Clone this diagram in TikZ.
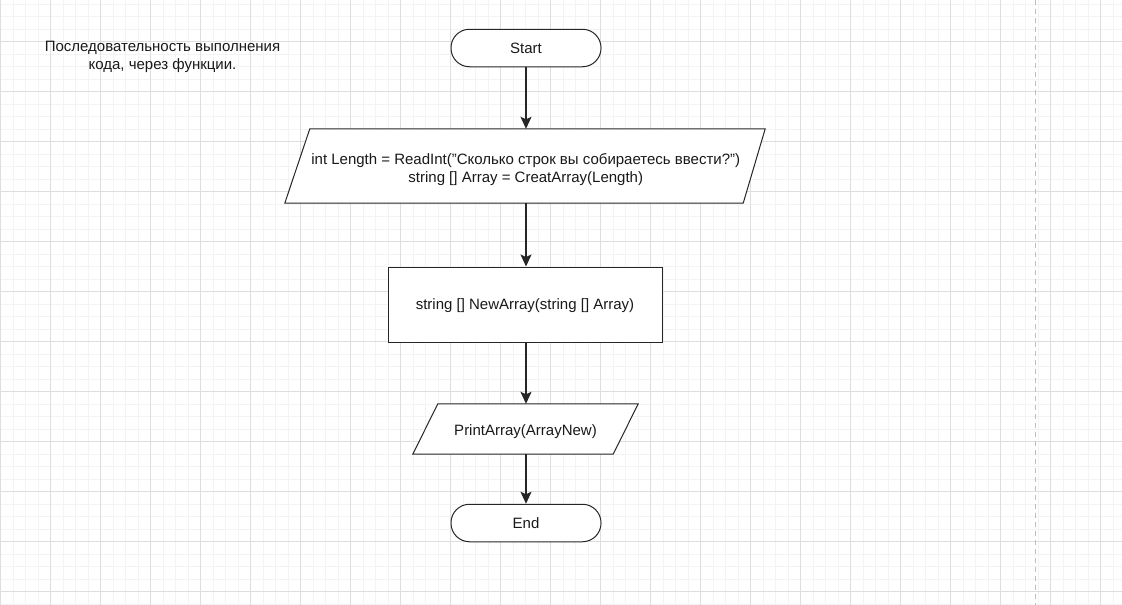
\documentclass[tikz,border=0pt]{standalone}
\usepackage{fontspec}
\setmainfont{Liberation Sans}
\usetikzlibrary{arrows.meta}
\definecolor{gridminor}{RGB}{243,243,243}
\definecolor{gridmajor}{RGB}{222,222,222}
\definecolor{pagebreak}{RGB}{190,190,190}
\begin{document}
\begin{tikzpicture}[x=1pt,y=-1pt,
  every node/.style={font=\fontsize{15}{18.5}\selectfont, text=black!90, inner sep=0pt},
  terminal/.style={draw=black!85, line width=1pt, fill=white, rectangle, rounded corners=18.5pt,
    minimum width=150pt, minimum height=37.5pt, text height=10pt, text depth=0pt},
  processbox/.style={draw=black!85, line width=1pt, fill=white, rectangle,
    minimum width=274pt, minimum height=75pt, text height=9pt, text depth=0pt},
  iobox/.style={rectangle, align=center},
  ioframe/.style={draw=black!85, line width=1pt, fill=white},
  flow/.style={draw=black!85, line width=1.3pt, -{Stealth[length=12pt,width=11pt,inset=2.5pt]}},
  minor/.style={draw=gridminor, line width=0.8pt},
  major/.style={draw=gridmajor, line width=0.8pt}]

\useasboundingbox (0,0) rectangle (1122,605);
\fill[white] (0,0) rectangle (1122,605);

% background grid: fine lines every 12.5, heavier every 50
\foreach \i in {0,...,89} {\draw[minor] (0.7+12.5*\i,0) -- (0.7+12.5*\i,605);}
\foreach \i in {0,...,48} {\draw[minor] (0,4.2+12.5*\i) -- (1122,4.2+12.5*\i);}
\foreach \i in {0,...,22} {\draw[major] (0.7+50*\i,0) -- (0.7+50*\i,605);}
\foreach \i in {0,...,11} {\draw[major] (0,41.7+50*\i) -- (1122,41.7+50*\i);}

% page boundary
\draw[pagebreak, line width=1pt, dash pattern=on 5pt off 4pt] (1035,0) -- (1035,605);

% note
\node[align=center, yshift=-2pt] (note) at (162.5,55) {Последовательность выполнения\\кода, через функции.};

% flowchart
\node[terminal] (start) at (526,48) {Start};

\node[iobox, minimum width=456.5pt, minimum height=74pt] (input) at (525.75,166) {};
\draw[ioframe] ([xshift=-12.5pt]input.south west) -- ([xshift=12.5pt]input.north west)
  -- ([xshift=11pt]input.north east) -- ([xshift=-11pt]input.south east) -- cycle;
\node[align=center, yshift=-3.5pt] (inputtext) at (input.center) {int Length = ReadInt("Сколько строк вы собираетесь ввести?")\\string [] Array = CreatArray(Length)};

\node[processbox] (proc) at (525,304.5) {string [] NewArray(string [] Array)};

\node[iobox, minimum width=200pt, minimum height=50pt] (output) at (525.5,429) {};
\draw[ioframe] ([xshift=-12.5pt]output.south west) -- ([xshift=12.5pt]output.north west)
  -- ([xshift=12.5pt]output.north east) -- ([xshift=-12.5pt]output.south east) -- cycle;
\node[yshift=-2.5pt] (outputtext) at (output.center) {PrintArray(ArrayNew)};

\node[terminal] (end) at (526,523) {End};

\draw[flow] (start.south) -- (start.south |- input.north);
\draw[flow] (start.south |- input.south) -- (start.south |- proc.north);
\draw[flow] (start.south |- proc.south) -- (start.south |- output.north);
\draw[flow] (start.south |- output.south) -- (end.north);
\end{tikzpicture}
\end{document}
